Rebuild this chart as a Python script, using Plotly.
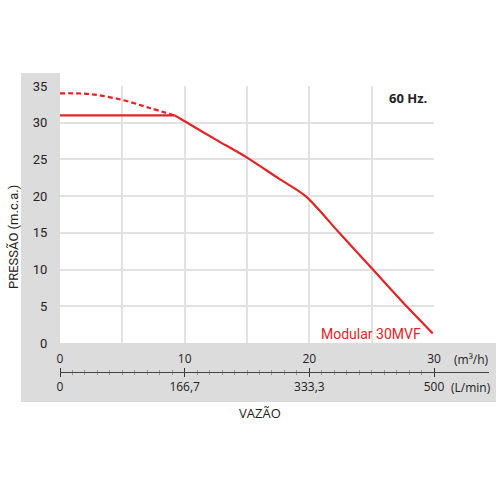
import plotly.graph_objects as go

# Data
flow_dashed = [0, 2.4, 5, 7.2, 9.2]
press_dashed = [34.0, 33.9, 33.1, 32.0, 31.0]
flow_flat = [0, 9.2]
press_flat = [31.0, 31.0]
flow_curve = [9.2, 10, 12.5, 15, 17.5, 19.7, 22.4, 25.1, 27.8, 29.9]
press_curve = [31.0, 30.2, 27.7, 25.25, 22.45, 20.0, 15.0, 10.0, 5.0, 1.3]

flow_ticks = [0, 5, 10, 15, 20, 25, 30]
flow_m3h_labels = ["0", "", "10", "", "20", "", "30"]
flow_lmin_labels = ["0", "", "166,7", "", "333,3", "", "500"]
minor_ticks = list(range(0, 31))

RED = "#e42326"
GRAY = "#dcdcdc"
GRID = "#e2e2e2"
TXT = "#222222"

W, H = 500, 500
L, R, T, B = 60, 11, 86, 98
pw = W - L - R  # 429
ph = H - T - B  # 316
x_end = 434
y_bottom = 343
xdom_main = (x_end - L) / pw
ydom_main0 = (H - B - y_bottom) / ph
axis_line_pos = (H - B - 372) / ph
ext_range = 30 * pw / (x_end - L)

def px_x(px):
    return (px - L) / pw

def px_y(py):
    return (H - B - py) / ph

fig = go.Figure()
fig.add_trace(go.Scatter(x=flow_dashed, y=press_dashed, mode="lines",
                         line=dict(color=RED, width=2.2, dash="5px,3px", shape="spline"),
                         hoverinfo="skip", showlegend=False))
fig.add_trace(go.Scatter(x=flow_flat, y=press_flat, mode="lines",
                         line=dict(color=RED, width=2.2), hoverinfo="skip", showlegend=False))
fig.add_trace(go.Scatter(x=flow_curve, y=press_curve, mode="lines",
                         line=dict(color=RED, width=2.2, shape="spline", smoothing=0.8),
                         hoverinfo="skip", showlegend=False))

# helper invisible traces so the flow scale axes render (on a hidden y axis)
fig.add_trace(go.Scatter(x=[None], y=[None], xaxis="x2", yaxis="y2", showlegend=False, hoverinfo="skip"))
fig.add_trace(go.Scatter(x=[None], y=[None], xaxis="x3", yaxis="y2", showlegend=False, hoverinfo="skip"))

shapes = [
    dict(type="rect", xref="paper", yref="paper", x0=px_x(21), x1=0, y0=0, y1=px_y(73),
         fillcolor=GRAY, line=dict(width=0), layer="below"),
    dict(type="rect", xref="paper", yref="paper", x0=px_x(21), x1=px_x(496), y0=0, y1=ydom_main0,
         fillcolor=GRAY, line=dict(width=0), layer="below"),
]

fig.update_layout(
    width=W, height=H,
    margin=dict(l=L, r=R, t=T, b=B),
    paper_bgcolor="white",
    plot_bgcolor="rgba(0,0,0,0)",
    shapes=shapes,
    xaxis=dict(domain=[0, xdom_main], range=[0, 30], tickvals=flow_ticks, showticklabels=False,
               showgrid=True, gridcolor=GRID, gridwidth=2, zeroline=False, ticks=""),
    yaxis=dict(domain=[ydom_main0, 1], range=[0, 35], dtick=5, showgrid=True, gridcolor=GRID,
               gridwidth=2, zeroline=False, ticks="outside", ticklen=9, tickcolor="rgba(0,0,0,0)",
               tickfont=dict(family="Roboto", size=13, color=TXT)),
    yaxis2=dict(domain=[0, ydom_main0], range=[0, 1], visible=False, showgrid=False, zeroline=False,
                anchor="x2"),
    xaxis2=dict(domain=[0, 1], range=[0, ext_range], anchor="free", position=axis_line_pos, side="top",
                tickmode="array", tickvals=flow_ticks, ticktext=flow_m3h_labels,
                ticks="outside", ticklen=4, tickwidth=1, tickcolor="#333",
                showline=True, linecolor="#444", linewidth=1, showgrid=False, zeroline=False,
                tickfont=dict(family="Open Sans", size=12, color=TXT),
                minor=dict(tickmode="array", tickvals=minor_ticks, ticks="outside", ticklen=2,
                           tickcolor="#999", tickwidth=1, showgrid=False)),
    xaxis3=dict(domain=[0, 1], range=[0, ext_range], anchor="free", position=axis_line_pos, side="bottom",
                tickmode="array", tickvals=flow_ticks, ticktext=flow_lmin_labels,
                ticks="outside", ticklen=4, tickwidth=1, tickcolor="#333",
                showline=False, showgrid=False, zeroline=False,
                tickfont=dict(family="Open Sans", size=12, color=TXT),
                minor=dict(tickmode="array", tickvals=minor_ticks, ticks="outside", ticklen=2,
                           tickcolor="#999", tickwidth=1, showgrid=False)),
)

ann = [
    dict(text="(m³/h)", x=px_x(471), y=px_y(359), font=dict(family="Open Sans", size=12, color=TXT)),
    dict(text="(L/min)", x=px_x(471), y=px_y(387), font=dict(family="Open Sans", size=12, color=TXT)),
    dict(text="VAZÃO", x=px_x(260), y=px_y(413), font=dict(family="Open Sans", size=13, color=TXT)),
    dict(text="PRESSÃO (m.c.a.)", x=px_x(13), y=px_y(237), textangle=-90,
         font=dict(family="Roboto", size=13, color=TXT)),
    dict(text="<b>60 Hz.</b>", x=px_x(429), y=px_y(98), xanchor="right",
         font=dict(family="Open Sans", size=13, color=TXT)),
    dict(text="Modular 30MVF", x=px_x(423), y=px_y(334), xanchor="right",
         font=dict(family="Roboto", size=14, color=RED)),
]
for a in ann:
    a.setdefault("xanchor", "center")
    a.update(xref="paper", yref="paper", showarrow=False, yanchor="middle")
fig.update_layout(annotations=ann)

fig.write_html("out.html", post_script="document.body.style.margin='0';",
               config={"displayModeBar": False})
